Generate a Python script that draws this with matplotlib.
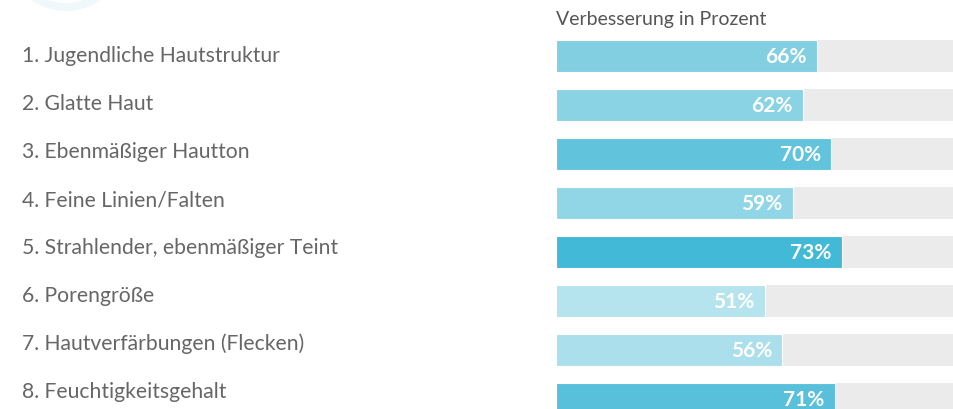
import matplotlib.pyplot as plt
import matplotlib.transforms as mtransforms
from matplotlib.patches import Wedge

labels = ["1. Jugendliche Hautstruktur", "2. Glatte Haut", "3. Ebenmäßiger Hautton",
          "4. Feine Linien/Falten", "5. Strahlender, ebenmäßiger Teint", "6. Porengröße",
          "7. Hautverfärbungen (Flecken)", "8. Feuchtigkeitsgehalt"]
values = [66, 62, 70, 59, 73, 51, 56, 71]
colors = ["#82cfe2", "#89d3e4", "#62c4dc", "#91d6e6", "#42b9d6", "#b5e3ee", "#abdfeb", "#58c0da"]
header = "Verbesserung in Prozent"

W, H = 954, 409
fig = plt.figure(figsize=(W / 100, H / 100), dpi=100)

# decorative ring top left
bg = fig.add_axes([0, 0, 1, 1])
bg.set_xlim(0, W)
bg.set_ylim(H, 0)
bg.axis("off")
bg.add_patch(Wedge((66, -50), 61, 0, 360, width=8, color="#f0f8fb", lw=0))

# bars in the original do not start at 0 %, the visible scale starts a bit below
x0, x1 = -8.7, 105
left = 556 / W
ax = fig.add_axes([left, 0, 1 - left, 1])
ax.set_xlim(x0, x1)
ax.set_ylim((H - 56) / 49, -56 / 49)
ax.axis("off")

ys = list(range(len(values)))
ax.barh(ys, [x1 - x0] * len(ys), height=32 / 49, color="#ebebeb", left=x0)
ax.barh(ys, [v - x0 for v in values], height=32 / 49, left=x0, color=colors,
        edgecolor="white", linewidth=0.8)

for y, v in zip(ys, values):
    ax.text(v - 3.0, y + 0.02, f"{v}%", ha="right", va="center", color="white",
            fontsize=15, fontweight="bold", family="Lato")

ax.text(x0, (19 - 56) / 49, header, ha="left", va="center", color="#555555",
        fontsize=14, family="Lato")

trans = mtransforms.blended_transform_factory(fig.transFigure, ax.transData)
for y, lab in zip(ys, labels):
    ax.text(22 / W, y - 0.02 * y, lab, transform=trans, ha="left", va="center", color="#666666",
            fontsize=15.2, family="Lato")

fig.savefig("out.png", dpi=100)
